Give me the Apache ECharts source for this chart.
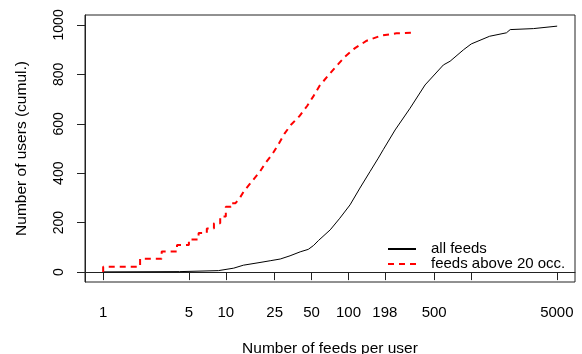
<!DOCTYPE html>
<html>
<head>
<meta charset="utf-8">
<script src="https://cdn.jsdelivr.net/npm/echarts@6/dist/echarts.min.js"></script>
<style>
  html, body { margin: 0; padding: 0; background: #fff; }
  #main { width: 582px; height: 354px; }
</style>
</head>
<body>
<div id="main"></div>
<script>
// all feeds (x = feeds per user, y = cumulative users)
var allX = [1, 4.2, 8.7, 11.6, 13.9, 19, 23, 27.8, 33.4, 40.4, 47, 52, 57, 71, 85, 103, 124, 150, 175, 192, 240, 318, 421, 594, 674, 870, 1003, 1415, 1941, 1965, 2084, 3220, 5030];
var allY = [1, 2, 6, 16, 28, 39, 46, 53, 66, 82, 92, 108, 128, 171, 218, 272, 340, 407, 461, 495, 575, 663, 757, 838, 853, 900, 923, 954, 968, 975, 981, 985, 995];

// feeds above 20 occ. (step corners at low counts, then dense)
var redX = [1, 1, 2, 2, 3, 3, 4, 4, 5, 5, 6, 6, 7, 7, 8, 8, 9, 9, 10, 10, 11, 11, 12, 13, 14, 16, 19, 21, 24, 27, 30, 34, 40, 46, 52, 58, 68, 80, 94, 113, 141, 186, 246, 336];
var redY = [0, 22, 22, 54, 54, 83, 83, 110, 110, 132, 132, 158, 158, 176, 176, 198, 198, 225, 225, 264, 264, 279, 279, 300, 326, 362, 407, 441, 478, 519, 559, 596, 632, 672, 713, 753, 794, 834, 872, 906, 936, 957, 966, 969];

var xTicks = [1, 5, 10, 25, 50, 100, 198, 500, 1000, 5000];
var xLabels = [1, 5, 10, 25, 50, 100, 198, 500, 5000];
var yTicks = [0, 200, 400, 600, 800, 1000];

var font = "'Liberation Sans', Arial, Helvetica, sans-serif";

function pairs(xs, ys) {
    return xs.map(function (x, i) { return [x, ys[i]]; });
}

var chart = echarts.init(document.getElementById('main'), null, { renderer: 'canvas' });

var option = {
    animation: false,
    backgroundColor: '#fff',
    textStyle: { fontFamily: font },
    grid: {
        left: 85, right: 7, top: 15, bottom: 72,
        outerBoundsMode: 'none',
        containLabel: false,
        show: true, borderColor: '#222', borderWidth: 1
    },
    legend: {
        left: 387, top: 241,
        padding: 0,
        orient: 'vertical',
        itemWidth: 28, itemHeight: 10, itemGap: -1,
        itemStyle: { opacity: 0 },
        formatter: function (name) { return '{t|' + name + '}'; },
        textStyle: {
            fontFamily: font, fontSize: 15, color: '#000', lineHeight: 16,
            rich: { t: { fontFamily: font, fontSize: 15, color: '#000', lineHeight: 16, padding: [0, 0, 0, 10] } }
        },
        data: ['all feeds', 'feeds above 20 occ.']
    },
    xAxis: {
        type: 'log',
        logBase: 10,
        min: 0.711,
        max: 7030,
        name: 'Number of feeds per user',
        nameLocation: 'middle',
        nameGap: 59,
        nameTextStyle: { fontFamily: font, fontSize: 15.5, color: '#000' },
        axisLine: { show: true, lineStyle: { color: '#222', width: 1 } },
        axisTick: { show: true, length: 8, customValues: xTicks, lineStyle: { color: '#222' } },
        axisLabel: {
            customValues: xLabels, margin: 23, fontFamily: font, fontSize: 15, color: '#000',
            formatter: function (v) { return String(v); }
        },
        splitLine: { show: false },
        minorTick: { show: false }
    },
    yAxis: {
        type: 'value',
        min: -40,
        max: 1040,
        name: 'Number of users (cumul.)',
        nameLocation: 'middle',
        nameGap: 55,
        nameTextStyle: { fontFamily: font, fontSize: 15.5, color: '#000' },
        axisLine: { show: true, lineStyle: { color: '#222', width: 1 } },
        axisTick: { show: true, length: 8, customValues: yTicks, lineStyle: { color: '#222' } },
        axisLabel: {
            customValues: yTicks, rotate: 90, margin: 19, fontFamily: font, fontSize: 14, color: '#000',
            formatter: function (v) { return String(v); }
        },
        splitLine: { show: false }
    },
    series: [
        {
            name: 'all feeds',
            type: 'line',
            data: pairs(allX, allY),
            symbol: 'none',
            lineStyle: { color: '#000', width: 1 },
            itemStyle: { color: '#000' }
        },
        {
            name: 'feeds above 20 occ.',
            type: 'line',
            data: pairs(redX, redY),
            symbol: 'none',
            lineStyle: { color: '#ff0000', width: 2, type: [6, 5] },
            itemStyle: { color: '#ff0000' }
        }
    ]
};

chart.setOption(option);
</script>
</body>
</html>
